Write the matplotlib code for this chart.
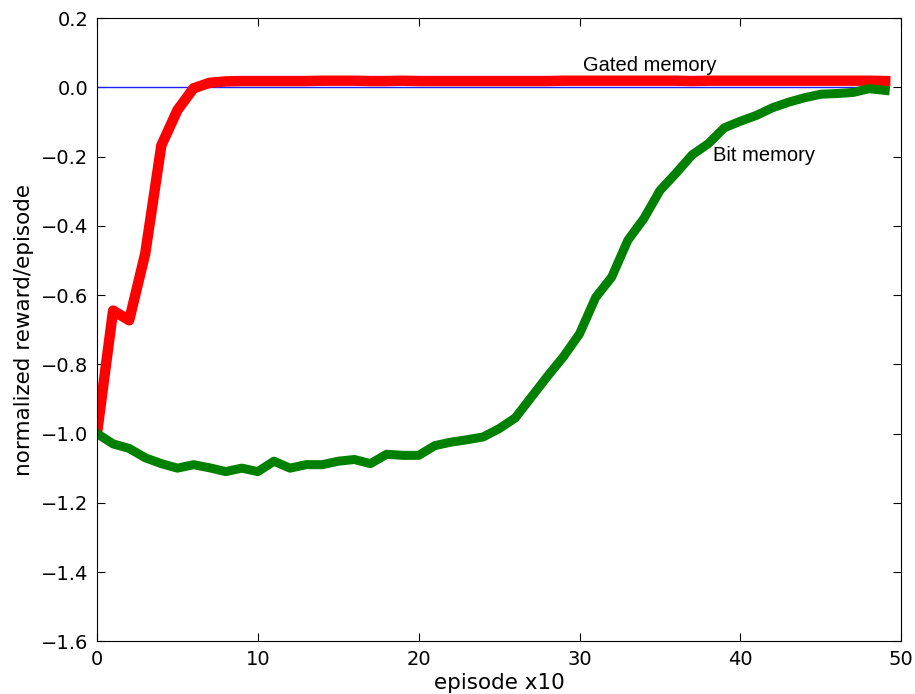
import matplotlib
matplotlib.use("Agg")
import matplotlib.pyplot as plt
import numpy as np

episodes = list(range(50))
gated = [-1.0, -0.645, -0.673, -0.48, -0.168, -0.066, -0.003, 0.013, 0.017, 0.018,
         0.018, 0.018, 0.018, 0.018, 0.019, 0.019, 0.019, 0.018, 0.018, 0.019,
         0.018, 0.018, 0.018, 0.018, 0.018, 0.018, 0.018, 0.018, 0.018, 0.019,
         0.019, 0.019, 0.019, 0.019, 0.019, 0.019, 0.019, 0.018, 0.019, 0.019,
         0.019, 0.019, 0.019, 0.019, 0.019, 0.019, 0.019, 0.019, 0.019, 0.018]
bit = [-1.0, -1.03, -1.043, -1.07, -1.087, -1.10, -1.09, -1.099, -1.11, -1.10,
       -1.11, -1.08, -1.10, -1.09, -1.09, -1.08, -1.075, -1.087, -1.06, -1.063,
       -1.063, -1.035, -1.025, -1.018, -1.01, -0.986, -0.955, -0.895, -0.835, -0.778,
       -0.712, -0.607, -0.548, -0.442, -0.379, -0.298, -0.248, -0.195, -0.163, -0.117,
       -0.098, -0.081, -0.059, -0.043, -0.03, -0.02, -0.018, -0.015, -0.004, -0.009]
baseline = [0.0] * 50

fig = plt.figure(figsize=(9.15, 6.94), dpi=100)
ax = fig.add_axes([0.106, 0.076, 0.879, 0.898])

ax.plot(episodes, baseline, color="#2020ff", lw=1.0)
ax.plot(episodes, gated, color="red", lw=7.5, solid_joinstyle="round")
ax.plot(episodes, bit, color="green", lw=6.5, solid_joinstyle="round")

ax.set_xlim(0, 50)
ax.set_ylim(-1.6, 0.2)
ax.set_xticks([0, 10, 20, 30, 40, 50])
ax.set_yticks(np.round(np.arange(-1.6, 0.21, 0.2), 1))
ax.tick_params(direction="in", top=True, right=True, labelsize=14, length=6, pad=6)
ax.set_xlabel("episode x10", fontsize=15.5, labelpad=3)
ax.set_ylabel("normalized reward/episode", fontsize=15.5, labelpad=5)

ax.text(30.2, 0.064, "Gated memory", fontsize=14.5, family="Liberation Sans", va="center", ha="left")
ax.text(38.3, -0.197, "Bit memory", fontsize=14.5, family="Liberation Sans", va="center", ha="left")

fig.savefig("out.png", dpi=100)
